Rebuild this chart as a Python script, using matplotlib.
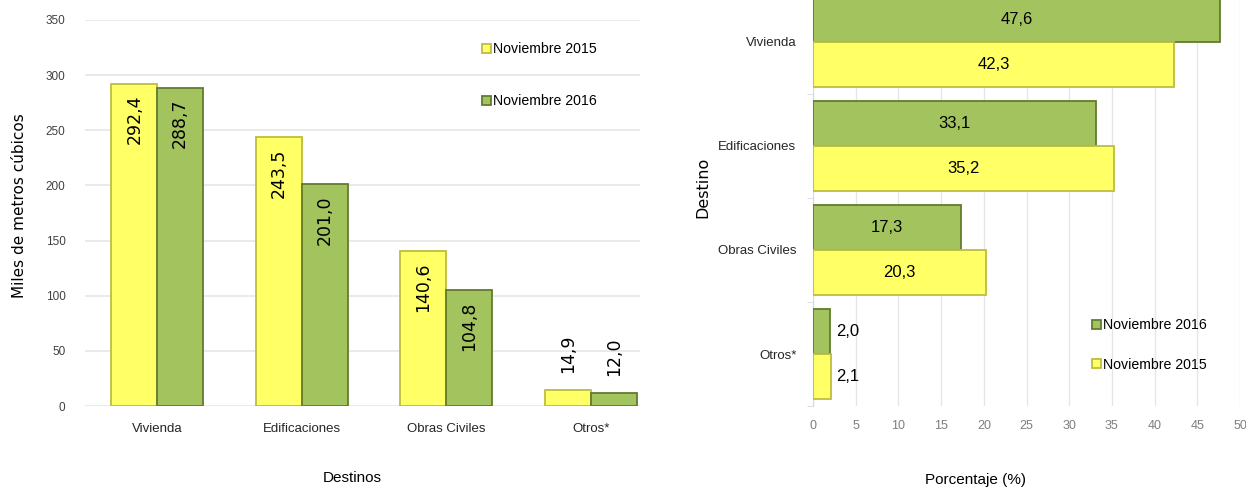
import matplotlib.pyplot as plt
import numpy as np

# datos
destinos = ['Vivienda', 'Edificaciones', 'Obras Civiles', 'Otros*']
miles_2015 = [292.4, 243.5, 140.6, 14.9]
miles_2016 = [288.7, 201.0, 104.8, 12.0]
pct_2015 = [42.3, 35.2, 20.3, 2.1]
pct_2016 = [47.6, 33.1, 17.3, 2.0]
serie_2015 = 'Noviembre 2015'
serie_2016 = 'Noviembre 2016'

amarillo = '#FFFF66'
borde_am = '#BDBD3E'
verde = '#A3C35E'
borde_ve = '#627C2E'
fnarrow = ['Liberation Sans', 'DejaVu Sans']

def fmt(v):
    return f'{v:.1f}'.replace('.', ',')

fig = plt.figure(figsize=(12.46, 4.91), dpi=100)

# ---------------- grafica de columnas ----------------
ax1 = fig.add_axes([0.0682, 0.1731, 0.4454, 0.7862])
x = np.arange(len(destinos))
w = 0.318
b1 = ax1.bar(x - w/2, miles_2015, w, color=amarillo, edgecolor=borde_am, linewidth=1.3, label=serie_2015, zorder=3)
b2 = ax1.bar(x + w/2, miles_2016, w, color=verde, edgecolor=borde_ve, linewidth=1.3, label=serie_2016, zorder=3)
ax1.set_ylim(0, 350)
ax1.set_xlim(-0.5, 3.34)
ax1.set_yticks(range(0, 351, 50))
ax1.yaxis.grid(True, color='#E6E6E6', linewidth=1.2, zorder=0)
ax1.set_axisbelow(True)
for s in ax1.spines.values():
    s.set_visible(False)
ax1.tick_params(axis='both', length=0)
ax1.set_xticks(x)
ax1.set_xticklabels(destinos, fontsize=9.5, family=fnarrow, color='#262626')
ax1.tick_params(axis='x', pad=12)
for t in ax1.get_yticklabels():
    t.set_family(fnarrow)
    t.set_fontsize(8.5)
    t.set_color('#404040')
ax1.tick_params(axis='y', pad=14)

for bars, vals in [(b1, miles_2015), (b2, miles_2016)]:
    for r, v in zip(bars, vals):
        cx = r.get_x() + r.get_width()/2
        if v > 50:
            ax1.annotate(fmt(v), (cx, v), xytext=(0, -8), textcoords='offset points',
                         rotation=90, ha='center', va='top', fontsize=12.5)
        else:
            ax1.annotate(fmt(v), (cx, v), xytext=(0, 12), textcoords='offset points',
                         rotation=90, ha='center', va='bottom', fontsize=12.5)

ax1.set_ylabel('Miles de metros cúbicos', fontsize=11)
ax1.yaxis.set_label_coords(-0.104, 0.52)
ax1.set_xlabel('Destinos', fontsize=11, family=fnarrow, va='top')
ax1.xaxis.set_label_coords(0.482, -0.168)
ax1.legend(handles=[b1, b2], loc='upper left', bbox_to_anchor=(0.377, 0.94),
           bbox_transform=fig.transFigure, frameon=False, prop={'family': fnarrow, 'size': 10.2},
           handlelength=0.6, handleheight=0.6, handletextpad=0.15, labelspacing=2.7)

# ---------------- grafica de barras horizontales ----------------
ax2 = fig.add_axes([0.6525, 0.1731, 0.3427, 0.8473])
y = np.arange(len(destinos))[::-1]
h = 0.43
c2 = ax2.barh(y + h/2, pct_2016, h, color=verde, edgecolor=borde_ve, linewidth=1.3, label=serie_2016, zorder=3)
c1 = ax2.barh(y - h/2, pct_2015, h, color=amarillo, edgecolor=borde_am, linewidth=1.3, label=serie_2015, zorder=3)
ax2.set_xlim(0, 50)
ax2.set_ylim(-0.5, 3.5)
ax2.set_xticks(range(0, 51, 5))
ax2.xaxis.grid(True, color='#E6E6E6', linewidth=1.0, zorder=0)
ax2.set_axisbelow(True)
for s in ['top', 'right', 'bottom']:
    ax2.spines[s].set_visible(False)
ax2.spines['left'].set_color('#D9D9D9')
ax2.set_yticks(y)
ax2.set_yticklabels(destinos, fontsize=9.5, family=fnarrow, color='#262626')
ax2.set_yticks(np.arange(-0.5, 3.6, 1.0), minor=True)
ax2.tick_params(axis='y', which='major', length=0, pad=12)
ax2.tick_params(axis='y', which='minor', length=4, color='#D9D9D9')
ax2.tick_params(axis='x', length=0, pad=10)
for t in ax2.get_xticklabels():
    t.set_family(fnarrow)
    t.set_fontsize(9)
    t.set_color('#7F7F7F')

for bars, vals in [(c2, pct_2016), (c1, pct_2015)]:
    for r, v in zip(bars, vals):
        cy = r.get_y() + r.get_height()/2
        if v > 5:
            ax2.text(v/2, cy, fmt(v), ha='center', va='center', fontsize=12, family=fnarrow)
        else:
            ax2.annotate(fmt(v), (v, cy), xytext=(4, 0), textcoords='offset points',
                         ha='left', va='center', fontsize=12, family=fnarrow)

ax2.set_ylabel('Destino', fontsize=11.5)
ax2.yaxis.set_label_coords(-0.24, 0.525)
ax2.set_xlabel('Porcentaje (%)', fontsize=11, family=fnarrow, va='top')
ax2.xaxis.set_label_coords(0.38, -0.16)
ax2.legend(handles=[c2, c1], loc='upper left', bbox_to_anchor=(0.8665, 0.378),
           bbox_transform=fig.transFigure, frameon=False, prop={'family': fnarrow, 'size': 10.2},
           handlelength=0.6, handleheight=0.6, handletextpad=0.15, labelspacing=1.8)

plt.savefig('out.png', dpi=100)
